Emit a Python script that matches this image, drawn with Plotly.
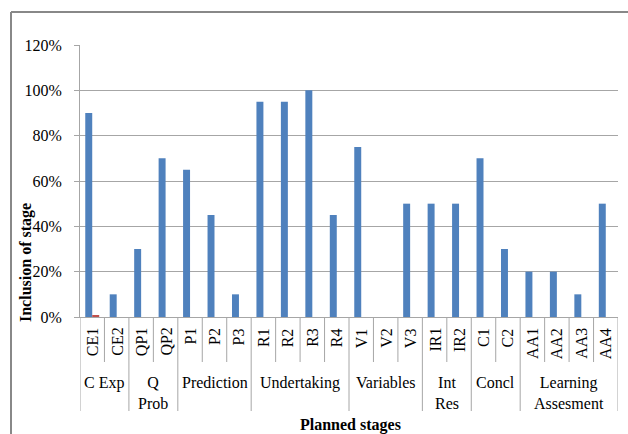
import plotly.graph_objects as go

# Planned stages and their share of inclusion
stages = ["CE1", "CE2", "QP1", "QP2", "P1", "P2", "P3", "R1", "R2", "R3", "R4",
          "V1", "V2", "V3", "IR1", "IR2", "C1", "C2", "AA1", "AA2", "AA3", "AA4"]
inclusion = [0.90, 0.10, 0.30, 0.70, 0.65, 0.45, 0.10, 0.95, 0.95, 1.00, 0.45,
             0.75, 0.00, 0.50, 0.50, 0.50, 0.70, 0.30, 0.20, 0.20, 0.10, 0.50]
second_series = [0.005] + [0.0] * 21

groups = ["C Exp", "Q<br>Prob", "Prediction", "Undertaking", "Variables",
          "Int<br>Res", "Concl", "Learning<br>Assesment"]
group_sizes = [2, 2, 3, 4, 3, 2, 2, 4]

W, H = 628, 434
L, R, T, B = 80, 10, 45, 117
PW, PH = W - L - R, H - T - B

FONT = "Liberation Serif"
GRID = "#a6a6a6"


def px_x(px):
    return (px - L) / PW


def px_y(py):
    return (H - B - py) / PH


fig = go.Figure()
fig.add_bar(x=stages, y=inclusion, marker_color="#4F81BD", marker_line_width=0,
            showlegend=False)
fig.add_bar(x=stages, y=second_series, marker_color="#C0504D", marker_line_width=0,
            showlegend=False)

shapes = []
annotations = []

# inner category labels and their separators
row1 = px_y(H - B + 45)
row2 = px_y(H - B + 94)
for i, s in enumerate(stages):
    annotations.append(dict(x=s, y=0, xref="x", yref="paper", text=s, showarrow=False,
                            textangle=-90, yanchor="top", xanchor="center", yshift=-9,
                            font=dict(family=FONT, size=16, color="black")))

boundaries = []
pos = 0
for g, n in zip(groups, group_sizes):
    annotations.append(dict(x=pos + (n - 1) / 2, y=0, xref="x", yref="paper", text=g,
                            showarrow=False, yanchor="top", xanchor="center",
                            yshift=-55, align="center",
                            font=dict(family=FONT, size=16, color="black")))
    boundaries.append(pos)
    pos += n
boundaries.append(pos)

for k in range(len(stages) + 1):
    y1 = row2 if k in boundaries else row1
    shapes.append(dict(type="line", xref="x", yref="paper", x0=k - 0.5, x1=k - 0.5,
                       y0=0, y1=y1, line=dict(color=GRID, width=1)))

# outer frame (top and left edges)
shapes.append(dict(type="line", xref="paper", yref="paper", x0=px_x(11), x1=px_x(W + 5),
                   y0=px_y(12), y1=px_y(12), line=dict(color="#888888", width=2)))
shapes.append(dict(type="line", xref="paper", yref="paper", x0=px_x(11), x1=px_x(11),
                   y0=px_y(12), y1=px_y(H + 5), line=dict(color="#888888", width=2)))

annotations.append(dict(x=px_x(350), y=px_y(425), xref="paper", yref="paper",
                        text="<b>Planned stages</b>", showarrow=False,
                        xanchor="center", yanchor="middle",
                        font=dict(family=FONT, size=16, color="black")))
annotations.append(dict(x=px_x(26), y=px_y(263), xref="paper", yref="paper",
                        text="<b>Inclusion of stage</b>", showarrow=False, textangle=-90,
                        xanchor="center", yanchor="middle",
                        font=dict(family=FONT, size=16, color="black")))

fig.update_layout(
    width=W, height=H,
    margin=dict(l=L, r=R, t=T, b=B),
    paper_bgcolor="white", plot_bgcolor="white",
    barmode="group", bargap=0.43, bargroupgap=0,
    font=dict(family=FONT, size=16, color="black"),
    xaxis=dict(type="category", showticklabels=False, ticks="", showgrid=False,
               showline=True, linecolor=GRID, linewidth=1, range=[-0.5, len(stages) - 0.5]),
    yaxis=dict(range=[0, 1.2], dtick=0.2, tickformat=".0%", showgrid=True,
               gridcolor=GRID, gridwidth=1, showline=True, linecolor=GRID, linewidth=1,
               ticks="outside", ticklen=5, tickcolor=GRID, zeroline=False,
               ticklabelstandoff=9,
               tickfont=dict(family=FONT, size=16, color="black")),
    shapes=shapes,
    annotations=annotations,
)

fig.write_html("out.html")
